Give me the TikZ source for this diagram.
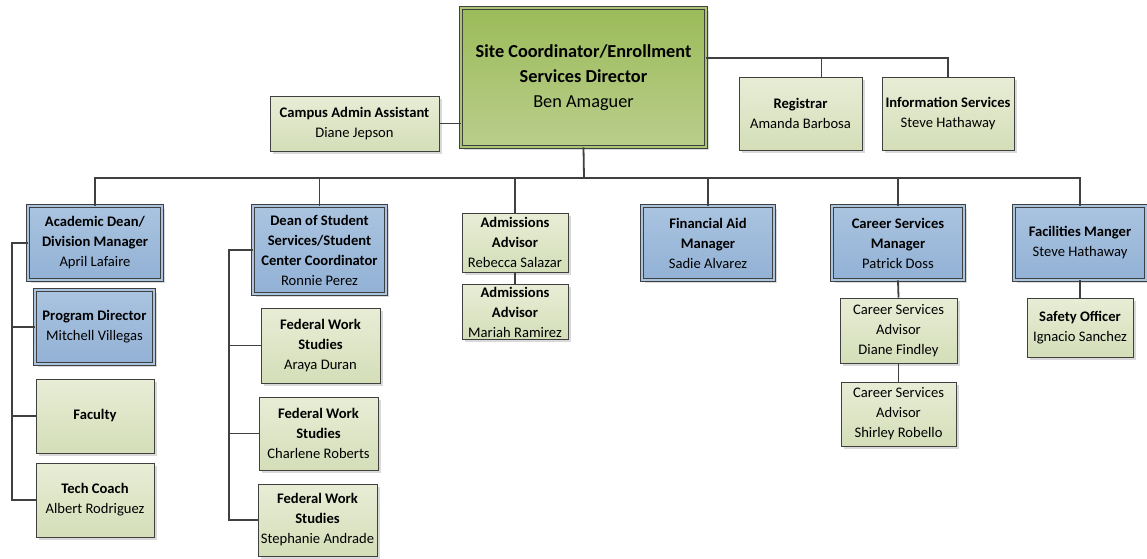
\documentclass[tikz,border=0pt]{standalone}
\usepackage{fontspec}
\setmainfont{Carlito}
\usepackage{tikz}
\usetikzlibrary{shadows,calc}
\definecolor{linegray}{RGB}{64,64,64}
\definecolor{topgreen}{RGB}{155,187,89}
\definecolor{topgreenlow}{RGB}{186,206,140}
\definecolor{palegreen}{RGB}{232,237,214}
\definecolor{palegreenlow}{RGB}{212,222,184}
\definecolor{bluebox}{RGB}{170,196,224}
\definecolor{blueboxlow}{RGB}{146,177,213}

\begin{document}
\begin{tikzpicture}[
    x=1pt, y=-1pt,
    box/.style={rectangle, draw=linegray, line width=0.9pt, align=center,
                inner sep=2pt, font=\fontsize{14.6}{20}\selectfont,
                drop shadow={shadow xshift=2.5pt, shadow yshift=-2.5pt,
                             opacity=0.25, fill=black!60}},
    staff/.style={box, top color=palegreen, bottom color=palegreenlow},
    lead/.style={box, top color=bluebox, bottom color=blueboxlow,
                 double=bluebox, double distance=2.4pt, line width=0.8pt},
    head/.style={box, top color=topgreen, bottom color=topgreenlow,
                 double=topgreen!85!white, double distance=2.4pt, line width=0.8pt,
                 font=\fontsize{18.3}{25}\selectfont},
    link/.style={draw=linegray, line width=1.8pt}
]
\useasboundingbox (0,0) rectangle (1147,558);

% top row
\node[head, minimum width=245, minimum height=139] (dir) at (583.5,77.5)
    {\textbf{Site Coordinator/Enrollment}\\\textbf{Services Director}\\Ben Amaguer};
\node[staff, minimum width=169, minimum height=55] (admin) at (354.5,123.5)
    {\textbf{Campus Admin Assistant}\\Diane Jepson};
\node[staff, minimum width=123, minimum height=73] (reg) at (800.5,113.5)
    {\textbf{Registrar}\\Amanda Barbosa};
\node[staff, minimum width=132, minimum height=73] (info) at (948,113.5)
    {\textbf{Information Services}\\Steve Hathaway};

% second row
\node[lead, minimum width=134, minimum height=74] (acad) at (95,243)
    {\textbf{Academic Dean/}\\\textbf{Division Manager}\\April Lafaire};
\node[lead, minimum width=133, minimum height=88] (dos) at (319.5,250)
    {\textbf{Dean of Student}\\\textbf{Services/Student}\\\textbf{Center Coordinator}\\Ronnie Perez};
\node[staff, minimum width=106, minimum height=59] (adm1) at (515,242.5)
    {\textbf{Admissions}\\\textbf{Advisor}\\Rebecca Salazar};
\node[lead, minimum width=132, minimum height=74] (fin) at (708,243)
    {\textbf{Financial Aid}\\\textbf{Manager}\\Sadie Alvarez};
\node[lead, minimum width=132, minimum height=74] (csm) at (898,243)
    {\textbf{Career Services}\\\textbf{Manager}\\Patrick Doss};
\node[lead, minimum width=132, minimum height=74] (fac) at (1080,243)
    {\textbf{Facilities Manger}\\Steve Hathaway};

% lower boxes
\node[staff, minimum width=106, minimum height=50] (adm2) at (515,312)
    {\textbf{Admissions}\\\textbf{Advisor}\\Mariah Ramirez};
\node[staff, minimum width=117, minimum height=65] (csa1) at (898.5,330.5)
    {Career Services\\Advisor\\Diane Findley};
\node[staff, minimum width=115, minimum height=64] (csa2) at (898.5,414)
    {Career Services\\Advisor\\Shirley Robello};
\node[staff, minimum width=106, minimum height=59] (safe) at (1080,327.5)
    {\textbf{Safety Officer}\\Ignacio Sanchez};

\node[lead, minimum width=119, minimum height=74] (prog) at (94.5,327)
    {\textbf{Program Director}\\Mitchell Villegas};
\node[staff, minimum width=118, minimum height=74] (faculty) at (95,416)
    {\textbf{Faculty}};
\node[staff, minimum width=118, minimum height=74] (tech) at (95,500)
    {\textbf{Tech Coach}\\Albert Rodriguez};

\node[staff, minimum width=119, minimum height=75] (fws1) at (320.5,345.5)
    {\textbf{Federal Work}\\\textbf{Studies}\\Araya Duran};
\node[staff, minimum width=119, minimum height=73] (fws2) at (318.5,433.5)
    {\textbf{Federal Work}\\\textbf{Studies}\\Charlene Roberts};
\node[staff, minimum width=119, minimum height=72] (fws3) at (317.5,520)
    {\textbf{Federal Work}\\\textbf{Studies}\\Stephanie Andrade};

% connectors
\coordinate (bus) at (584,178);
\draw[link] (dir.south) -- (bus);
\foreach \n in {acad,dos,adm1,fin,csm,fac}
    \draw[link] (bus) -| (\n.north);
\draw[link] (admin.east) -- (admin.east -| dir.west);
\draw[link] ($(dir.north east)+(0,50)$) -| ([xshift=21pt]reg.north);
\draw[link] ($(dir.north east)+(0,50)$) -| (info.north);
\foreach \n in {prog,faculty,tech}
    \draw[link] (acad.west) -- ++(-16,0) |- (\n.west);
\foreach \n in {fws1,fws2,fws3}
    \draw[link] (dos.west) -- ++(-24,0) |- (\n.west);
\draw[link] (adm1.south) -- (adm2.north);
\draw[link] (csm.south) -- (csa1.north);
\draw[link] (csa1.south) -- (csa2.north);
\draw[link] (fac.south) -- (safe.north);
\end{tikzpicture}
\end{document}
